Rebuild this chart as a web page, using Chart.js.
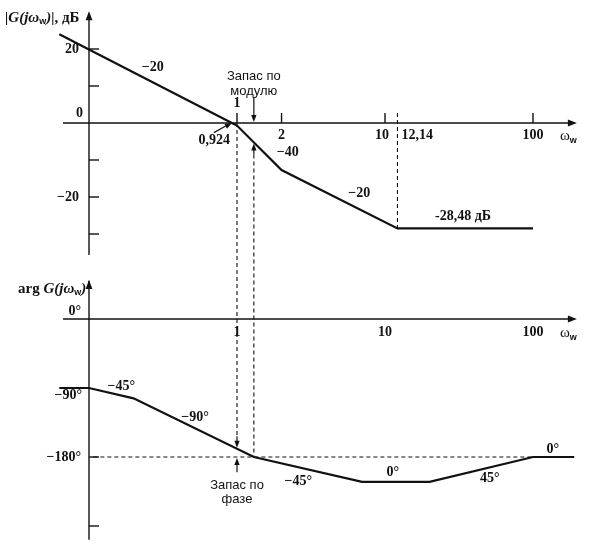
<!DOCTYPE html>
<html>
<head>
<meta charset="utf-8">
<script src="https://cdn.jsdelivr.net/npm/chart.js@4/dist/chart.umd.min.js"></script>
<style>
  html, body { margin: 0; padding: 0; background: #fff; }
  #bode { display: block; }
</style>
</head>
<body>
<canvas id="bode" width="602" height="546"></canvas>
<script>
// magnitude asymptote (w-plane frequency, dB)
const magW = [0.063, 0.924, 1, 2, 12.14, 100];
const magDb = [24, 0, -0.7, -12.7, -28.48, -28.48];

// phase asymptote (degrees)
const phW = [0.063, 0.1, 0.2, 1.3, 7, 20, 100, 190];
const phDeg = [-90, -90, -103.5, -180, -212.5, -212.5, -180, -180];

// axis ticks
const magTicks = [20, 10, -10, -20, -30];
const magTickLabels = [['20', 20], ['0', 0], ['\u221220', -20]];
const phTicks = [-180, -270];
const freqTicksTop = [1, 2, 10, 100];
const freqLabelsTop = [['2', 2], ['10', 10], ['100', 100]];
const freqLabelsBottom = [['1', 1], ['10', 10], ['100', 100]];

// slope labels
const magSlopes = [['\u221220', 0.27, 15], ['\u221240', 2.2, -8], ['\u221220', 6.7, -19]];
const phSlopes = [['\u221245\u00b0', 0.165, -88], ['\u221290\u00b0', 0.52, -128], ['\u221245\u00b0', 2.6, -212],
                  ['0\u00b0', 11.3, -200], ['45\u00b0', 51, -208], ['0\u00b0', 136, -170]];

const wCross = 0.924;   // gain crossover
const wPhase = 1.3;     // phase crossover (-180°)
const wCorner = 12.14;
const numFont = 'bold 14px "Liberation Serif", serif';
const txtFont = '13px "Liberation Sans", Arial, sans-serif';

function arrowHead(ctx, x, y, dir, size = 7) {
  ctx.save();
  ctx.translate(x, y);
  ctx.rotate(dir);
  ctx.beginPath();
  ctx.moveTo(0, 0);
  ctx.lineTo(-size, -size * 0.38);
  ctx.lineTo(-size, size * 0.38);
  ctx.closePath();
  ctx.fill();
  ctx.restore();
}

function line(ctx, x1, y1, x2, y2, dash) {
  ctx.save();
  if (dash) ctx.setLineDash(dash);
  ctx.beginPath();
  ctx.moveTo(x1, y1);
  ctx.lineTo(x2, y2);
  ctx.stroke();
  ctx.restore();
}

// text runs drawn one after another: [text, font, dy]
function runs(ctx, parts, x, y) {
  ctx.save();
  ctx.textAlign = 'left';
  ctx.textBaseline = 'middle';
  let cx = x;
  parts.forEach(([t, f, dy]) => {
    ctx.font = f;
    ctx.fillText(t, cx, y + (dy || 0));
    cx += ctx.measureText(t).width;
  });
  ctx.restore();
}

const itF = 'italic bold 15px "Liberation Serif", serif';
const upF = 'bold 15px "Liberation Serif", serif';
const subF = 'bold 9px "Liberation Sans", sans-serif';
const omegaLabel = [['\u03c9', '15px "Liberation Serif", serif'], ['w', 'bold 9px "Liberation Sans", sans-serif', 4]];

const bodeDecor = {
  id: 'bodeDecor',
  afterDatasetsDraw(chart) {
    const ctx = chart.ctx;
    const sx = chart.scales.x, sm = chart.scales.yMag, sp = chart.scales.yPh;
    const X = v => sx.getPixelForValue(v);
    const M = v => sm.getPixelForValue(v);
    const P = v => sp.getPixelForValue(v);
    const ax = X(0.1);

    ctx.save();
    ctx.strokeStyle = '#111';
    ctx.fillStyle = '#111';
    ctx.lineWidth = 1.4;

    // ---- magnitude axes
    line(ctx, ax, M(-35.7), ax, M(29.5));
    arrowHead(ctx, ax, M(30.2), -Math.PI / 2, 9);
    line(ctx, X(0.0667), M(0), X(190), M(0));
    arrowHead(ctx, X(198), M(0), 0, 9);
    magTicks.forEach(t => line(ctx, ax, M(t), ax + 10, M(t)));
    freqTicksTop.forEach(f => line(ctx, X(f), M(0), X(f), M(2.7)));

    ctx.font = numFont;
    ctx.textAlign = 'right';
    ctx.textBaseline = 'middle';
    magTickLabels.forEach(([s, v]) => ctx.fillText(s, ax - (v === 0 ? 6 : 10), M(v) + (v === 0 ? -10 : 0)));
    ctx.textAlign = 'center';
    ctx.fillText('1', X(1), M(5.4));
    freqLabelsTop.forEach(([s, v]) => ctx.fillText(s, X(v) - (v === 10 ? 3 : 0), M(-3.3)));
    ctx.textAlign = 'left';
    ctx.fillText('12,14', X(wCorner) + 4, M(-3.3));
    runs(ctx, omegaLabel, 560, M(-3.6));
    runs(ctx, [['|G(j\u03c9', itF], ['w', subF, 4], [')|', itF], [', \u0434\u0411', upF]], 5, 18);

    // slope labels and corner label
    ctx.font = numFont;
    ctx.textAlign = 'center';
    ctx.textBaseline = 'middle';
    magSlopes.forEach(([s, w, d]) => ctx.fillText(s, X(w), M(d)));
    ctx.fillText('-28,48 \u0434\u0411', 463, M(-25.3));

    // 0,924 pointer
    ctx.textAlign = 'right';
    ctx.fillText('0,924', X(wCross) - 2, M(-4.7));
    ctx.lineWidth = 1.2;
    line(ctx, X(wCross) - 18, M(-2.6), X(wCross) - 4, M(-0.5));
    arrowHead(ctx, X(wCross), M(0), Math.atan2(M(0) - M(-2.6), 18), 7);

    // gain margin
    ctx.font = txtFont;
    ctx.textAlign = 'center';
    ctx.fillText('\u0417\u0430\u043f\u0430\u0441 \u043f\u043e', X(wPhase), 76);
    ctx.fillText('\u043c\u043e\u0434\u0443\u043b\u044e', X(wPhase), 91);
    line(ctx, X(wPhase), 97, X(wPhase), M(0) - 5);
    arrowHead(ctx, X(wPhase), M(0) - 1, Math.PI / 2, 7);
    const magAtPc = -5.24;
    line(ctx, X(wPhase), M(magAtPc) + 5, X(wPhase), M(magAtPc) + 12);
    arrowHead(ctx, X(wPhase), M(magAtPc) + 1, -Math.PI / 2, 7);

    // dashed guides
    ctx.lineWidth = 1.1;
    const dash = [4, 3];
    line(ctx, X(1), M(0), X(1), P(-153), dash);
    line(ctx, X(wPhase), M(magAtPc) + 12, X(wPhase), P(-180), dash);
    line(ctx, X(wCorner), M(2.7), X(wCorner), M(-28.48), dash);
    line(ctx, X(0.107), P(-180), X(100), P(-180), dash);

    // ---- phase axes
    ctx.lineWidth = 1.4;
    line(ctx, ax, P(-288), ax, P(50));
    arrowHead(ctx, ax, P(51), -Math.PI / 2, 9);
    line(ctx, X(0.0667), P(0), X(190), P(0));
    arrowHead(ctx, X(198), P(0), 0, 9);
    phTicks.forEach(t => line(ctx, ax, P(t), ax + 10, P(t)));

    ctx.font = numFont;
    ctx.textAlign = 'right';
    ctx.fillText('0\u00b0', ax - 8, P(10));
    ctx.fillText('\u221290\u00b0', ax - 7, P(-100));
    ctx.fillText('\u2212180\u00b0', ax - 8, P(-180));
    ctx.textAlign = 'center';
    freqLabelsBottom.forEach(([s, v]) => ctx.fillText(s, X(v), P(-18)));
    runs(ctx, omegaLabel, 560, P(-18.5));
    runs(ctx, [['arg ', upF], ['G(j\u03c9', itF], ['w', subF, 4], [')', itF]], 18, 289);

    ctx.font = numFont;
    ctx.textAlign = 'center';
    ctx.textBaseline = 'middle';
    phSlopes.forEach(([s, w, d]) => ctx.fillText(s, X(w), P(d)));

    // phase margin
    const phAt1 = -169.3;
    ctx.lineWidth = 1.2;
    line(ctx, X(1), P(-153), X(1), P(phAt1) - 5);
    arrowHead(ctx, X(1), P(phAt1) - 1, Math.PI / 2, 7);
    line(ctx, X(1), P(-180) + 5, X(1), P(-200));
    arrowHead(ctx, X(1), P(-180) + 1, -Math.PI / 2, 7);
    ctx.font = txtFont;
    ctx.fillText('\u0417\u0430\u043f\u0430\u0441 \u043f\u043e', X(1), 485);
    ctx.fillText('\u0444\u0430\u0437\u0435', X(1), 499);

    ctx.restore();
  }
};

new Chart(document.getElementById('bode'), {
  type: 'line',
  data: {
    datasets: [
      {
        data: magW.map((w, i) => ({ x: w, y: magDb[i] })),
        yAxisID: 'yMag',
        borderColor: '#111', borderWidth: 2.2, pointRadius: 0, tension: 0, clip: false
      },
      {
        data: phW.map((w, i) => ({ x: w, y: phDeg[i] })),
        yAxisID: 'yPh',
        borderColor: '#111', borderWidth: 2.2, pointRadius: 0, tension: 0, clip: false
      }
    ]
  },
  options: {
    responsive: false,
    animation: false,
    layout: { padding: 0 },
    plugins: { legend: { display: false }, tooltip: { enabled: false } },
    scales: {
      x: { type: 'logarithmic', min: 0.02504, max: 292.6, display: false },
      yMag: { type: 'linear', min: -114.32, max: 33.24, display: false },
      yPh: { type: 'linear', min: -296.1, max: 416.1, display: false }
    }
  },
  plugins: [bodeDecor]
});
</script>
</body>
</html>
